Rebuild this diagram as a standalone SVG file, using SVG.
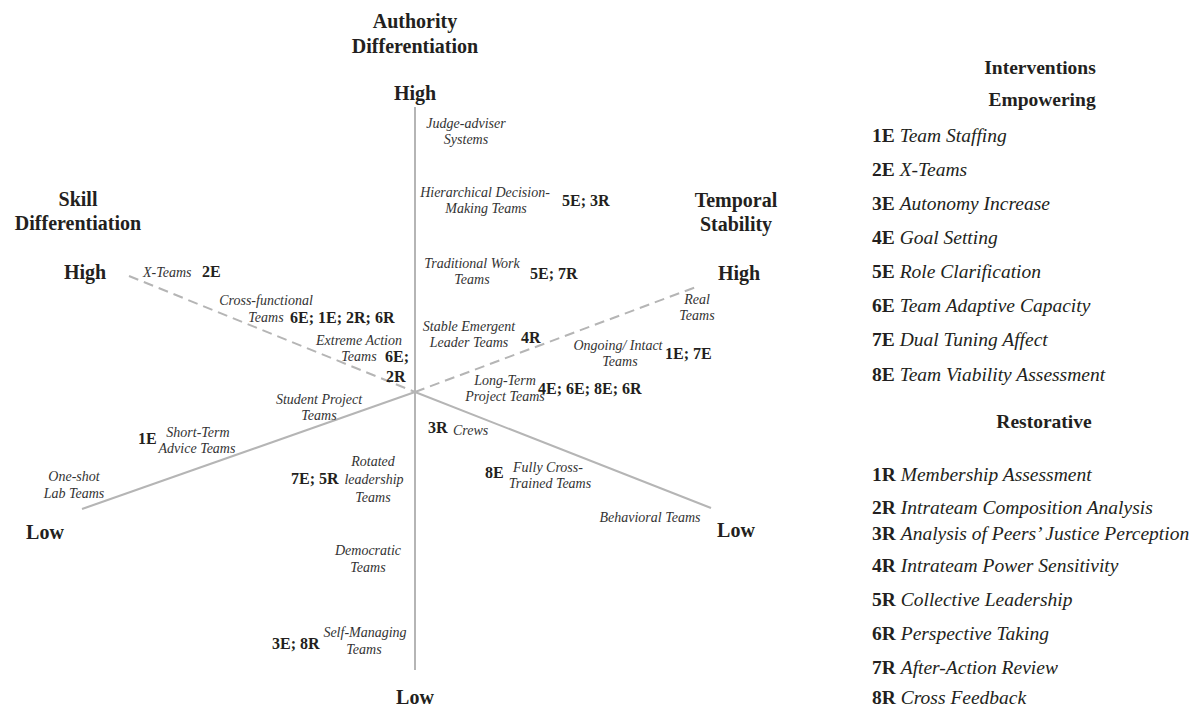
<svg xmlns="http://www.w3.org/2000/svg" width="1196" height="709" viewBox="0 0 1196 709" font-family="'Liberation Serif', 'Times New Roman', Times, serif">
<style>
text{font-family:'Liberation Serif','Times New Roman',Times,serif;fill:#231f20}
.ttl{font-size:20px;font-weight:bold;text-anchor:middle}
.hl{font-size:20px;font-weight:bold;text-anchor:middle}
.lb{font-size:14px;font-style:italic;fill:#333;text-anchor:middle}
.lbs{font-size:14px;font-style:italic;fill:#333}
.cd{font-size:16px;font-weight:bold}
.hd{font-size:19.5px;font-weight:bold;text-anchor:middle}
.it{font-size:19.5px}
.it .c{font-weight:bold}
.it .n{font-style:italic}
.ax{stroke:#b5b5b5;stroke-width:2;fill:none}
.dash{stroke-dasharray:10 6}
</style>
<g id="connectors">
<line class="ax" x1="415" y1="107" x2="415" y2="670"/>
<line class="ax dash" x1="129" y1="276" x2="415" y2="392"/>
<line class="ax" x1="82" y1="509" x2="415" y2="392"/>
<line class="ax dash" x1="415" y1="392" x2="696" y2="287"/>
<line class="ax" x1="415" y1="392" x2="711" y2="508"/>
</g>
<g id="axis-authority">
<text class="ttl" x="415" y="28">Authority</text>
<text class="ttl" x="415" y="53">Differentiation</text>
<text class="hl" x="415" y="100">High</text>
<text class="hl" x="415" y="704">Low</text>
</g>
<g id="axis-skill">
<text class="ttl" x="78" y="206">Skill</text>
<text class="ttl" x="78" y="230">Differentiation</text>
<text class="hl" x="85" y="279">High</text>
<text class="hl" x="45" y="539">Low</text>
</g>
<g id="axis-temporal">
<text class="ttl" x="736" y="207">Temporal</text>
<text class="ttl" x="736" y="231">Stability</text>
<text class="hl" x="739" y="280">High</text>
<text class="hl" x="736" y="537">Low</text>
</g>
<g id="judge-adviser">
<text class="lb" x="466" y="128"><tspan x="466">Judge-adviser</tspan><tspan x="466" dy="16">Systems</tspan></text>
</g>
<g id="hierarchical">
<text class="lb" x="485" y="197"><tspan x="485">Hierarchical Decision-</tspan><tspan x="486" dy="16">Making Teams</tspan></text>
<text class="cd" x="562" y="206">5E; 3R</text>
</g>
<g id="traditional">
<text class="lb" x="472" y="268"><tspan x="472">Traditional Work</tspan><tspan x="472" dy="16">Teams</tspan></text>
<text class="cd" x="530" y="279">5E; 7R</text>
</g>
<g id="stable-emergent">
<text class="lb" x="469" y="331"><tspan x="469">Stable Emergent</tspan><tspan x="469" dy="16">Leader Teams</tspan></text>
<text class="cd" x="521" y="343">4R</text>
</g>
<g id="real-teams">
<text class="lb" x="697" y="304"><tspan x="697">Real</tspan><tspan x="697" dy="16">Teams</tspan></text>
</g>
<g id="ongoing">
<text class="lb" x="618" y="350"><tspan x="618">Ongoing/ Intact</tspan><tspan x="620" dy="16">Teams</tspan></text>
<text class="cd" x="665" y="359">1E; 7E</text>
</g>
<g id="long-term">
<text class="lb" x="507" y="385"><tspan x="505">Long-Term</tspan><tspan x="505" dy="16">Project Teams</tspan></text>
<text class="cd" x="538" y="394">4E; 6E; 8E; 6R</text>
</g>
<g id="x-teams">
<text class="lbs" x="143" y="277">X-Teams</text>
<text class="cd" x="202" y="277">2E</text>
</g>
<g id="cross-functional">
<text class="lb" x="266" y="305"><tspan x="266">Cross-functional</tspan><tspan x="266" dy="17">Teams</tspan></text>
<text class="cd" x="290" y="323">6E; 1E; 2R; 6R</text>
</g>
<g id="extreme-action">
<text class="lb" x="359" y="345"><tspan x="359">Extreme Action</tspan><tspan x="359" dy="16">Teams</tspan></text>
<text class="cd" x="385" y="362">6E;</text>
<text class="cd" x="386" y="382">2R</text>
</g>
<g id="student-project">
<text class="lb" x="319" y="404"><tspan x="319">Student Project</tspan><tspan x="319" dy="16">Teams</tspan></text>
</g>
<g id="short-term">
<text class="cd" x="138" y="444">1E</text>
<text class="lb" x="198" y="437"><tspan x="198">Short-Term</tspan><tspan x="197" dy="16">Advice Teams</tspan></text>
</g>
<g id="one-shot">
<text class="lb" x="74" y="481"><tspan x="74">One-shot</tspan><tspan x="74" dy="17">Lab Teams</tspan></text>
</g>
<g id="rotated">
<text class="cd" x="291" y="484">7E; 5R</text>
<text class="lb" x="373" y="466"><tspan x="373">Rotated</tspan><tspan x="374" dy="18">leadership</tspan><tspan x="373" dy="18">Teams</tspan></text>
</g>
<g id="crews">
<text class="cd" x="428" y="433">3R</text>
<text class="lbs" x="453" y="435">Crews</text>
</g>
<g id="fully-cross">
<text class="cd" x="485" y="478">8E</text>
<text class="lb" x="548" y="472"><tspan x="548">Fully Cross-</tspan><tspan x="550" dy="16">Trained Teams</tspan></text>
</g>
<g id="behavioral">
<text class="lb" x="650" y="522">Behavioral Teams</text>
</g>
<g id="democratic">
<text class="lb" x="368" y="555"><tspan x="368">Democratic</tspan><tspan x="368" dy="17">Teams</tspan></text>
</g>
<g id="self-managing">
<text class="lb" x="365" y="637"><tspan x="365">Self-Managing</tspan><tspan x="364" dy="17">Teams</tspan></text>
<text class="cd" x="272" y="649">3E; 8R</text>
</g>
<g id="interventions">
<text class="hd" x="1040" y="74">Interventions</text>
</g>
<g id="empowering">
<text class="hd" x="1042" y="106">Empowering</text>
<text class="it" x="872" y="142"><tspan class="c">1E</tspan> <tspan class="n">Team Staffing</tspan></text>
<text class="it" x="872" y="176"><tspan class="c">2E</tspan> <tspan class="n">X-Teams</tspan></text>
<text class="it" x="872" y="210"><tspan class="c">3E</tspan> <tspan class="n">Autonomy Increase</tspan></text>
<text class="it" x="872" y="244"><tspan class="c">4E</tspan> <tspan class="n">Goal Setting</tspan></text>
<text class="it" x="872" y="278"><tspan class="c">5E</tspan> <tspan class="n">Role Clarification</tspan></text>
<text class="it" x="872" y="312"><tspan class="c">6E</tspan> <tspan class="n">Team Adaptive Capacity</tspan></text>
<text class="it" x="872" y="346"><tspan class="c">7E</tspan> <tspan class="n">Dual Tuning Affect</tspan></text>
<text class="it" x="872" y="381"><tspan class="c">8E</tspan> <tspan class="n">Team Viability Assessment</tspan></text>
</g>
<g id="restorative">
<text class="hd" x="1044" y="428">Restorative</text>
<text class="it" x="872" y="481"><tspan class="c">1R</tspan> <tspan class="n">Membership Assessment</tspan></text>
<text class="it" x="872" y="514"><tspan class="c">2R</tspan> <tspan class="n">Intrateam Composition Analysis</tspan></text>
<text class="it" x="872" y="540"><tspan class="c">3R</tspan> <tspan class="n">Analysis of Peers’ Justice Perception</tspan></text>
<text class="it" x="872" y="572"><tspan class="c">4R</tspan> <tspan class="n">Intrateam Power Sensitivity</tspan></text>
<text class="it" x="872" y="606"><tspan class="c">5R</tspan> <tspan class="n">Collective Leadership</tspan></text>
<text class="it" x="872" y="640"><tspan class="c">6R</tspan> <tspan class="n">Perspective Taking</tspan></text>
<text class="it" x="872" y="674"><tspan class="c">7R</tspan> <tspan class="n">After-Action Review</tspan></text>
<text class="it" x="872" y="704"><tspan class="c">8R</tspan> <tspan class="n">Cross Feedback</tspan></text>
</g>
</svg>
